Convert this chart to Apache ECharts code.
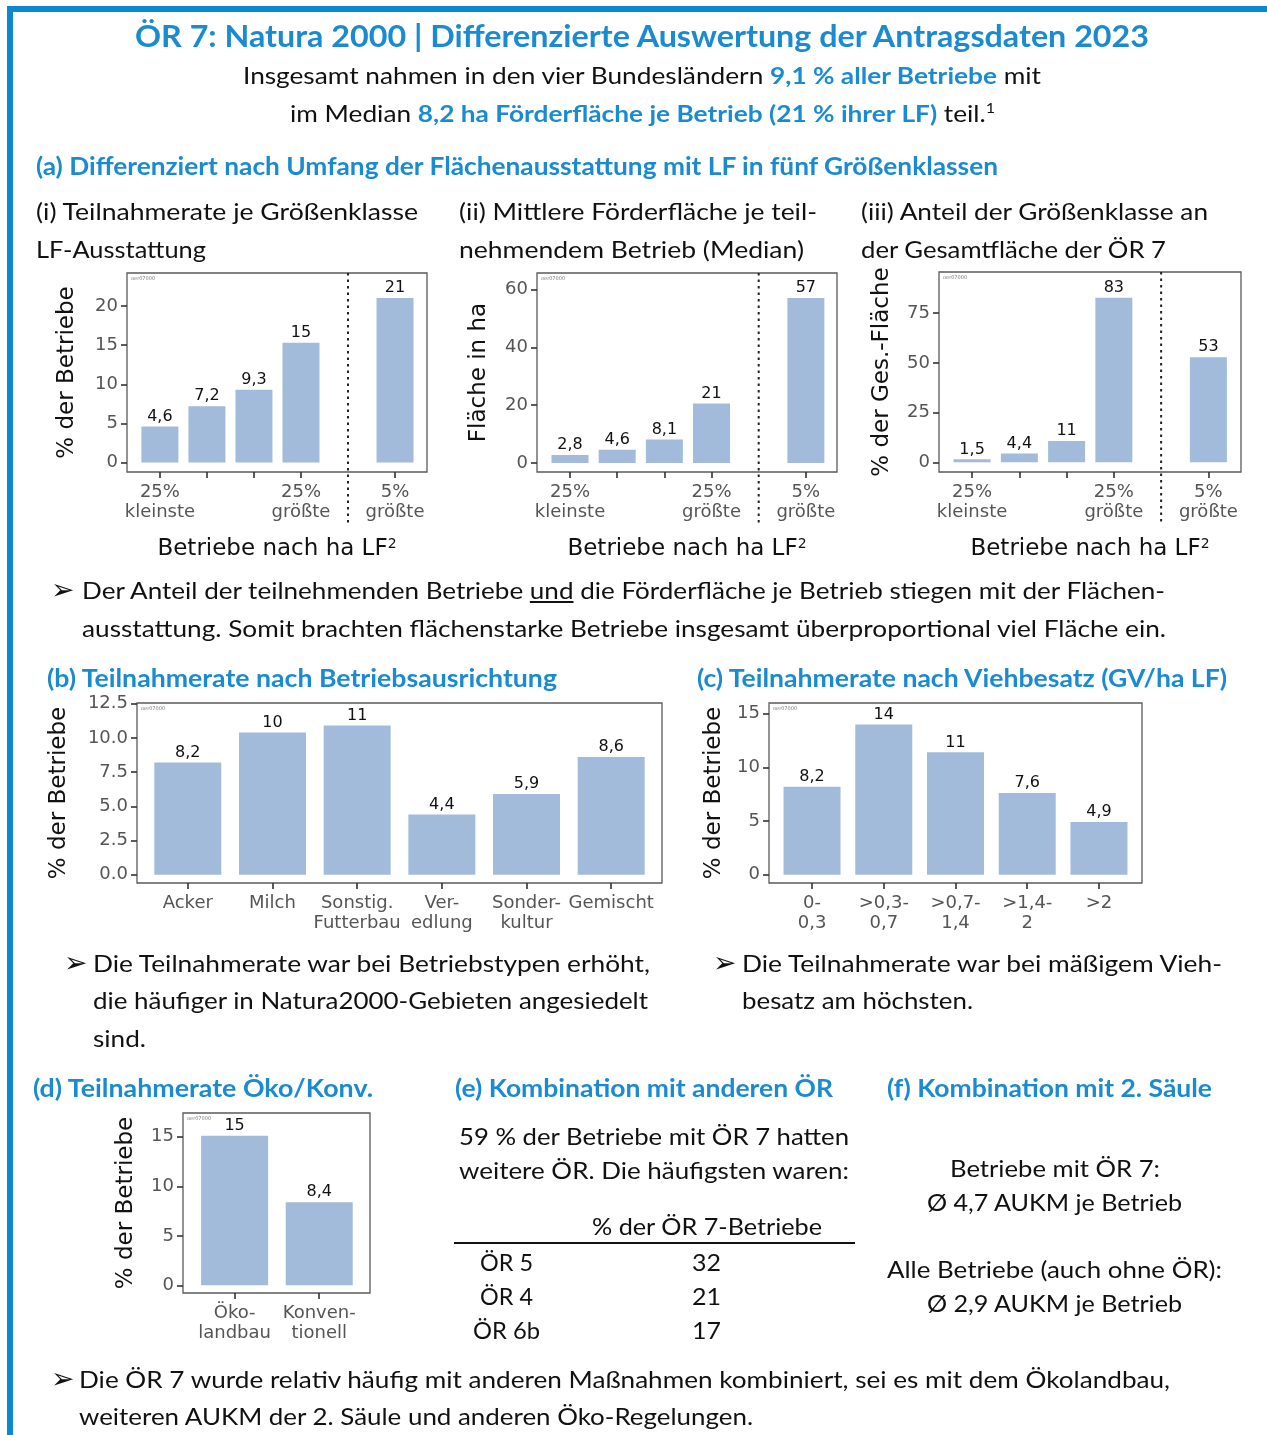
<!DOCTYPE html>
<html><head><meta charset="utf-8">
<script src="https://cdn.jsdelivr.net/npm/echarts@6/dist/echarts.min.js"></script>
<style>
html,body{margin:0;padding:0;background:#fff;}
#page{position:relative;width:1267px;height:1435px;overflow:hidden;font-family:Lato,'Open Sans',sans-serif;color:#111;}
#chart{position:absolute;left:0;top:0;width:1267px;height:1435px;}
.t{position:absolute;white-space:nowrap;line-height:30px;height:30px;font-size:23px;transform-origin:0 50%;}
.h{font-weight:bold;color:#1a8bd1;}
.b{font-weight:bold;color:#1a8bd1;}
.sup{font-size:14px;position:relative;top:-9px;}
.bul{position:absolute;font-family:'DejaVu Sans';font-size:28px;line-height:30px;height:30px;color:#111;}
.rule{position:absolute;background:#111;}
.border{position:absolute;background:#0a88d2;}
</style>
</head><body>
<div id="page">
<div id="chart"></div>
<div class="border" style="left:7px;top:6px;width:1260px;height:6px"></div>
<div class="border" style="left:7px;top:6px;width:6px;height:1429px"></div>

<div class="t h" data-x1="135" data-x2="1149" data-cy="35" data-fs="31">ÖR 7: Natura 2000 | Differenzierte Auswertung der Antragsdaten 2023</div>
<div class="t" data-x1="243" data-x2="1041" data-cy="75">Insgesamt nahmen in den vier Bundesländern <span class="b">9,1 % aller Betriebe</span> mit</div>
<div class="t" data-x1="290" data-x2="995" data-cy="113">im Median <span class="b">8,2 ha Förderfläche je Betrieb (21 % ihrer LF)</span> teil.<span class="sup">1</span></div>

<div class="t h" data-x1="36" data-x2="998" data-cy="166" data-fs="24">(a) Differenziert nach Umfang der Flächenausstattung mit LF in fünf Größenklassen</div>
<div class="t" data-x1="36" data-x2="418" data-cy="211">(i) Teilnahmerate je Größenklasse</div>
<div class="t" data-x1="36" data-x2="206" data-cy="249">LF-Ausstattung</div>
<div class="t" data-x1="459" data-x2="817" data-cy="211">(ii) Mittlere Förderfläche je teil-</div>
<div class="t" data-x1="459" data-x2="804" data-cy="249">nehmendem Betrieb (Median)</div>
<div class="t" data-x1="861" data-x2="1208" data-cy="211">(iii) Anteil der Größenklasse an</div>
<div class="t" data-x1="861" data-x2="1166" data-cy="249">der Gesamtfläche der ÖR 7</div>

<div class="bul" style="left:51px;top:575px">➢</div>
<div class="t" data-x1="82" data-x2="1165" data-cy="590">Der Anteil der teilnehmenden Betriebe <u>und</u> die Förderfläche je Betrieb stiegen mit der Flächen-</div>
<div class="t" data-x1="82" data-x2="1166" data-cy="628">ausstattung. Somit brachten flächenstarke Betriebe insgesamt überproportional viel Fläche ein.</div>

<div class="t h" data-x1="47" data-x2="557" data-cy="678" data-fs="24">(b) Teilnahmerate nach Betriebsausrichtung</div>
<div class="t h" data-x1="697" data-x2="1227" data-cy="678" data-fs="24">(c) Teilnahmerate nach Viehbesatz (GV/ha LF)</div>

<div class="bul" style="left:64px;top:948px">➢</div>
<div class="t" data-x1="93" data-x2="650" data-cy="963">Die Teilnahmerate war bei Betriebstypen erhöht,</div>
<div class="t" data-x1="93" data-x2="648" data-cy="1000">die häufiger in Natura2000-Gebieten angesiedelt</div>
<div class="t" data-x1="93" data-x2="146" data-cy="1038">sind.</div>
<div class="bul" style="left:713px;top:948px">➢</div>
<div class="t" data-x1="742" data-x2="1222" data-cy="963">Die Teilnahmerate war bei mäßigem Vieh-</div>
<div class="t" data-x1="742" data-x2="973" data-cy="1000">besatz am höchsten.</div>

<div class="t h" data-x1="33" data-x2="373" data-cy="1088" data-fs="24">(d) Teilnahmerate Öko/Konv.</div>
<div class="t h" data-x1="455" data-x2="833" data-cy="1088" data-fs="24">(e) Kombination mit anderen ÖR</div>
<div class="t h" data-x1="887" data-x2="1212" data-cy="1088" data-fs="24">(f) Kombination mit 2. Säule</div>

<div class="t" data-x1="459" data-x2="849" data-cy="1136">59 % der Betriebe mit ÖR 7 hatten</div>
<div class="t" data-x1="459" data-x2="849" data-cy="1170">weitere ÖR. Die häufigsten waren:</div>
<div class="t" data-x1="592" data-x2="822" data-cy="1226">% der ÖR 7-Betriebe</div>
<div class="rule" style="left:454px;top:1242px;width:401px;height:2px"></div>
<div class="t" data-x1="480" data-x2="533" data-cy="1262">ÖR 5</div>
<div class="t" data-x1="692" data-x2="721" data-cy="1262">32</div>
<div class="t" data-x1="480" data-x2="533" data-cy="1296">ÖR 4</div>
<div class="t" data-x1="692" data-x2="721" data-cy="1296">21</div>
<div class="t" data-x1="473" data-x2="540" data-cy="1330">ÖR 6b</div>
<div class="t" data-x1="692" data-x2="721" data-cy="1330">17</div>

<div class="t" data-x1="950" data-x2="1160" data-cy="1168">Betriebe mit ÖR 7:</div>
<div class="t" data-x1="927" data-x2="1182" data-cy="1202">Ø 4,7 AUKM je Betrieb</div>
<div class="t" data-x1="887" data-x2="1222" data-cy="1269">Alle Betriebe (auch ohne ÖR):</div>
<div class="t" data-x1="927" data-x2="1182" data-cy="1303">Ø 2,9 AUKM je Betrieb</div>

<div class="bul" style="left:51px;top:1364px">➢</div>
<div class="t" data-x1="79" data-x2="1170" data-cy="1379">Die ÖR 7 wurde relativ häufig mit anderen Maßnahmen kombiniert, sei es mit dem Ökolandbau,</div>
<div class="t" data-x1="79" data-x2="753" data-cy="1416">weiteren AUKM der 2. Säule und anderen Öko-Regelungen.</div>
</div>

<script>
// ---------- data ----------
const CAT_A = ['25%\nkleinste', '', '', '25%\ngrößte', '5%\ngrößte'];
const A_TEILNAHME = [4.6, 7.2, 9.3, 15.3, 21.0];
const A_FLAECHE = [2.8, 4.6, 8.1, 20.6, 57.1];
const A_ANTEIL = [1.5, 4.4, 10.7, 82.8, 52.9];
const A_TICKS_I = [0, 5, 10, 15, 20];
const A_TICKS_II = [0, 20, 40, 60];
const A_TICKS_III = [0, 25, 50, 75];

const CAT_B = ['Acker', 'Milch', 'Sonstig.\nFutterbau', 'Ver-\nedlung', 'Sonder-\nkultur', 'Gemischt'];
const B_VALUES = [8.2, 10.4, 10.9, 4.4, 5.9, 8.6];
const B_TICKS = [0, 2.5, 5, 7.5, 10, 12.5];

const CAT_C = ['0-\n0,3', '>0,3-\n0,7', '>0,7-\n1,4', '>1,4-\n2', '>2'];
const C_VALUES = [8.2, 14.0, 11.4, 7.6, 4.9];
const C_TICKS = [0, 5, 10, 15];

const CAT_D = ['Öko-\nlandbau', 'Konven-\ntionell'];
const D_VALUES = [15.1, 8.4];
const D_TICKS = [0, 5, 10, 15];

// ---------- text fitting ----------
function fitTexts() {
  document.querySelectorAll('.t').forEach(el => {
    const fs = el.dataset.fs || 23;
    el.style.fontSize = fs + 'px';
    el.style.transform = 'none';
    const x1 = +el.dataset.x1, x2 = +el.dataset.x2, cy = +el.dataset.cy;
    el.style.left = x1 + 'px';
    el.style.top = (cy - 15) + 'px';
    const w = el.getBoundingClientRect().width;
    el.style.transform = 'scaleX(' + ((x2 - x1) / w) + ')';
  });
}
fitTexts();
if (document.fonts && document.fonts.ready) document.fonts.ready.then(fitTexts);

// ---------- chart ----------
const FONT = '"DejaVu Sans"';
const BAR = '#a3bbdb';
const fmtVal = v => (v >= 10 ? String(Math.round(v)) : v.toFixed(1)).replace('.', ',');

const panels = [
  {grid: {left: 127, top: 273, width: 300, height: 199}, x: [-0.7, 5.68], y: [-1.2, 24.2],
   yTicks: A_TICKS_I, yFmt: v => String(v), cats: CAT_A, vals: A_TEILNAHME, gap: true,
   yName: '% der Betriebe', yGap: 48, xName: true},
  {grid: {left: 537, top: 273, width: 300, height: 199}, x: [-0.7, 5.66], y: [-3.1, 65.7],
   yTicks: A_TICKS_II, yFmt: v => String(v), cats: CAT_A, vals: A_FLAECHE, gap: true,
   yName: 'Fläche in ha', yGap: 46, xName: true},
  {grid: {left: 939, top: 272, width: 302, height: 200}, x: [-0.7, 5.69], y: [-4.85, 95.7],
   yTicks: A_TICKS_III, yFmt: v => String(v), cats: CAT_A, vals: A_ANTEIL, gap: true,
   yName: '% der Ges.-Fläche', yGap: 45, xName: true},
  {grid: {left: 137, top: 703, width: 525, height: 180}, x: [-0.6, 5.6], y: [-0.61, 12.55],
   yTicks: B_TICKS, yFmt: v => v.toFixed(1), cats: CAT_B, vals: B_VALUES, gap: false,
   yName: '% der Betriebe', yGap: 66, xName: false},
  {grid: {left: 769, top: 703, width: 373, height: 180}, x: [-0.6, 4.6], y: [-0.78, 16.0],
   yTicks: C_TICKS, yFmt: v => String(v), cats: CAT_C, vals: C_VALUES, gap: false,
   yName: '% der Betriebe', yGap: 43, xName: false},
  {grid: {left: 183, top: 1113, width: 187, height: 180}, x: [-0.61, 1.6], y: [-0.77, 17.4],
   yTicks: D_TICKS, yFmt: v => String(v), cats: CAT_D, vals: D_VALUES, gap: false,
   yName: '% der Betriebe', yGap: 45, xName: false}
];

const grids = [], xAxes = [], yAxes = [], series = [], graphics = [];
panels.forEach((p, k) => {
  const pos = i => (p.gap && i >= 4 ? i + 1 : i);
  const positions = p.vals.map((v, i) => pos(i));
  const labelMap = {};
  p.cats.forEach((c, i) => { labelMap[pos(i)] = c; });
  const labelPos = positions.filter(x => labelMap[x] !== '');
  grids.push(Object.assign({show: true, borderColor: '#5a5a5a', borderWidth: 1.3, backgroundColor: 'transparent'}, p.grid));
  xAxes.push({
    type: 'value', gridIndex: k, min: p.x[0], max: p.x[1],
    axisLine: {show: false, onZero: false},
    splitLine: {show: false},
    axisTick: {show: true, customValues: positions, length: 6, lineStyle: {color: '#333', width: 1.6}},
    axisLabel: {customValues: labelPos, formatter: v => labelMap[v] || '', fontFamily: FONT, fontSize: 18,
      color: '#555', lineHeight: 20, margin: 10},
    name: p.xName ? 'Betriebe nach ha LF{s|2}' : '',
    nameLocation: 'middle', nameGap: 65,
    nameTextStyle: {fontFamily: FONT, fontSize: 23, color: '#111',
      rich: {s: {fontFamily: FONT, fontSize: 14, color: '#111', verticalAlign: 'top', padding: [0, 0, 10, 0]}}}
  });
  yAxes.push({
    type: 'value', gridIndex: k, min: p.y[0], max: p.y[1],
    axisLine: {show: false, onZero: false},
    splitLine: {show: false},
    axisTick: {show: true, customValues: p.yTicks, length: 6, lineStyle: {color: '#333', width: 1.6}},
    axisLabel: {customValues: p.yTicks, formatter: p.yFmt, fontFamily: FONT, fontSize: 18, color: '#555', margin: 9},
    name: p.yName, nameLocation: 'middle', nameRotate: 90, nameGap: p.yGap,
    nameTextStyle: {fontFamily: FONT, fontSize: 23, color: '#111'}
  });
  const pxPerUnit = p.grid.width / (p.x[1] - p.x[0]);
  series.push({
    type: 'bar', xAxisIndex: k, yAxisIndex: k,
    data: p.vals.map((v, i) => [pos(i), v]),
    barWidth: Math.round(pxPerUnit * 0.79),
    itemStyle: {color: BAR},
    label: {show: true, position: 'top', distance: 2, formatter: q => fmtVal(q.value[1]),
      fontFamily: FONT, fontSize: 16, color: '#111'},
    silent: true
  });
  graphics.push({type: 'text', left: p.grid.left + 4, top: p.grid.top + 3, silent: true,
    style: {text: 'oer07000', fontSize: 5, fill: '#777', fontFamily: FONT}});
});

const chart = echarts.init(document.getElementById('chart'), null, {renderer: 'canvas'});
chart.setOption({animation: false, grid: grids, xAxis: xAxes, yAxis: yAxes, series: series, graphic: graphics});

// dotted separators between the 25% and 5% groups
const extra = [];
panels.forEach((p, k) => {
  if (!p.gap) return;
  const top = chart.convertToPixel({xAxisIndex: k, yAxisIndex: k}, [4, p.y[1]]);
  const bot = chart.convertToPixel({xAxisIndex: k, yAxisIndex: k}, [4, p.y[0]]);
  extra.push({type: 'line', silent: true,
    shape: {x1: top[0], y1: top[1], x2: bot[0], y2: bot[1] + 51},
    style: {stroke: '#222', lineWidth: 2, lineDash: [2.5, 4]}});
});
chart.setOption({graphic: graphics.concat(extra)});
</script>
</body></html>
